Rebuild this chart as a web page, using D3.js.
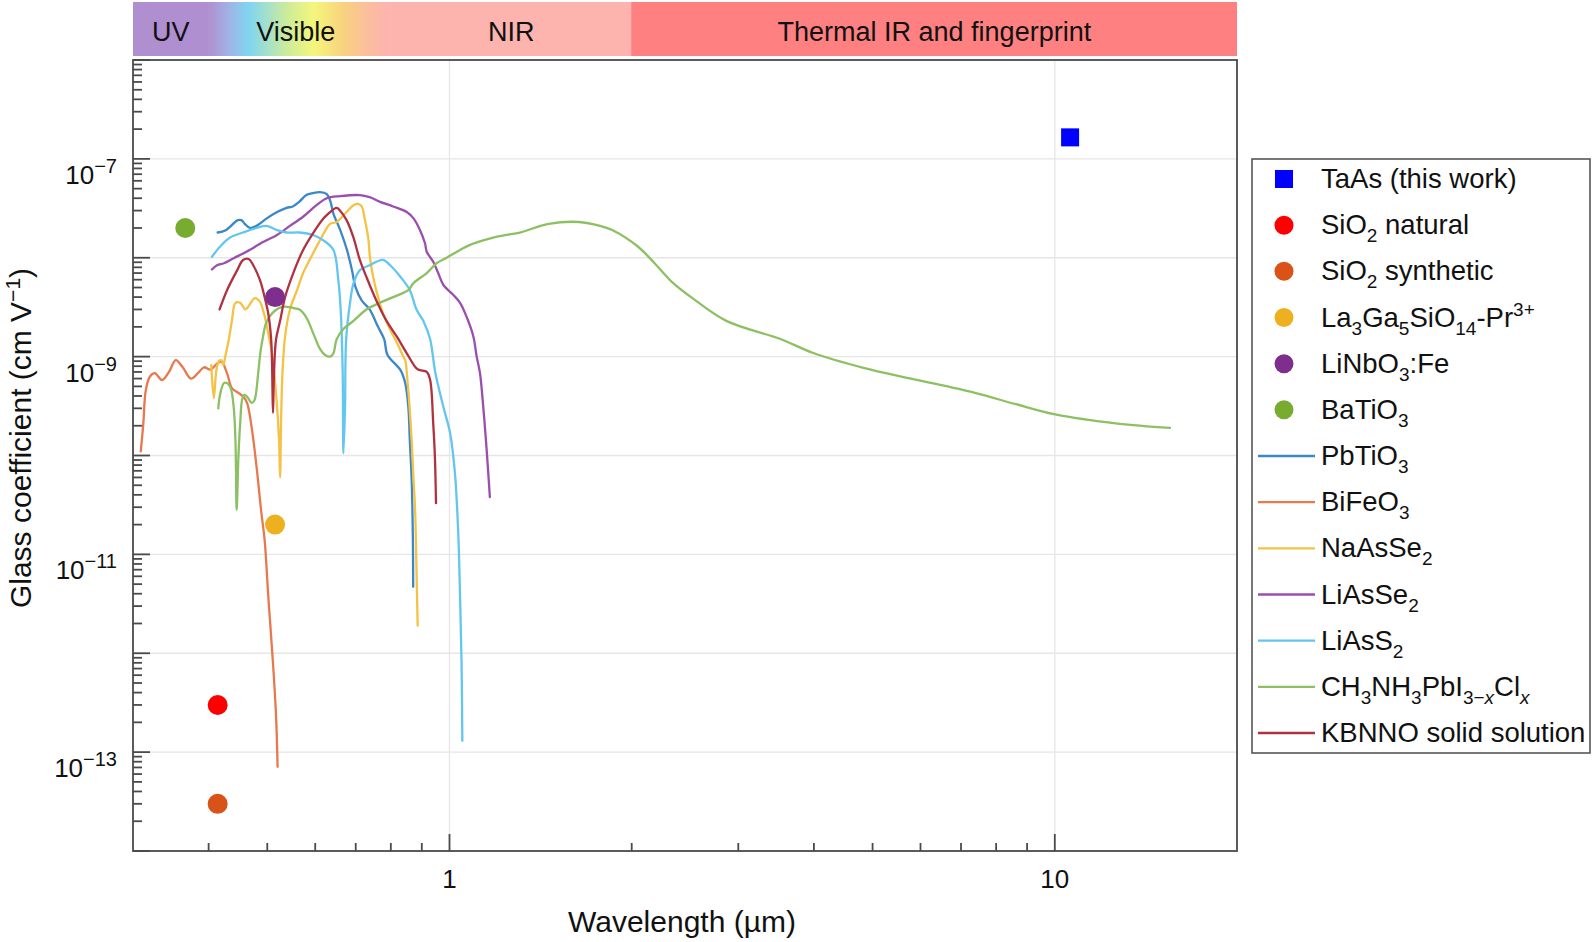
<!DOCTYPE html>
<html><head><meta charset="utf-8">
<script src="https://cdn.jsdelivr.net/npm/d3@7"></script>
<style>
body{margin:0;background:#fff;}
svg{display:block;font-family:"Liberation Sans",Arial,Helvetica,sans-serif;}
</style>
</head><body>
<svg id="chart" width="1593" height="942"></svg>
<script>
// ---------------- DATA ----------------
const bandNames = ["UV", "Visible", "NIR", "Thermal IR and fingerprint"];
const bandStart = [0.3, 0.4, 0.8, 2];
const bandEnd   = [0.4, 0.8, 2, 20];
const visibleStops = [[0.4,"#b08fd0"],[0.432,"#a0b3e6"],[0.466,"#7fd5f0"],[0.5,"#a5e0cc"],[0.54,"#cdec98"],[0.597,"#f5f67c"],[0.667,"#f8d27e"],[0.73,"#fbbf9c"],[0.79,"#fdb3ae"]];

const xTickLabels = [1, 10];
const yTickLabels = [-7, -9, -11, -13];

const pointNames  = ["TaAs (this work)", "SiO_{2} natural", "SiO_{2} synthetic", "La_{3}Ga_{5}SiO_{14}-Pr^{3+}", "LiNbO_{3}:Fe", "BaTiO_{3}"];
const pointLambda = [10.6, 0.414, 0.414, 0.515, 0.515, 0.366];
const pointValue  = [1.65e-7, 3.0e-13, 3.0e-14, 2.0e-11, 4.0e-9, 2.0e-8];

const curveNames = ["PbTiO_{3}", "BiFeO_{3}", "NaAsSe_{2}", "LiAsSe_{2}", "LiAsS_{2}", "CH_{3}NH_{3}PbI_{3−x}Cl_{x}", "KBNNO solid solution"];

const pbtio3 = [[0.414,1.8e-8],[0.427,1.9e-8],[0.447,2.4e-8],[0.453,2.4e-8],[0.459,2.2e-8],[0.468,2.0e-8],[0.48,2.1e-8],[0.499,2.5e-8],[0.519,2.9e-8],[0.538,3.2e-8],[0.551,3.3e-8],[0.565,3.7e-8],[0.58,4.3e-8],[0.595,4.5e-8],[0.611,4.6e-8],[0.627,4.4e-8],[0.635,3.8e-8],[0.643,2.8e-8],[0.66,1.9e-8],[0.677,1.2e-8],[0.69,7.5e-9],[0.699,5.1e-9],[0.716,3.7e-9],[0.738,3.0e-9],[0.762,2.0e-9],[0.78,1.5e-9],[0.79,1.04e-9],[0.83,7.3e-10],[0.845,5.4e-10],[0.855,3.1e-10],[0.86,1.4e-10],[0.866,5.6e-11],[0.87,1.4e-11],[0.871,4.7e-12]];

const bifeo3 = [[0.309,1.1e-10],[0.312,2.1e-10],[0.315,4.6e-10],[0.32,6.3e-10],[0.326,6.8e-10],[0.335,5.8e-10],[0.344,7.0e-10],[0.353,9.2e-10],[0.362,7.9e-10],[0.374,6.0e-10],[0.384,6.8e-10],[0.393,7.8e-10],[0.403,7.4e-10],[0.413,8.5e-10],[0.42,8.9e-10],[0.429,6.8e-10],[0.437,4.8e-10],[0.448,4.3e-10],[0.457,3.9e-10],[0.463,3.4e-10],[0.471,1.95e-10],[0.48,7.7e-11],[0.489,2.6e-11],[0.495,1.4e-11],[0.502,3.7e-12],[0.511,7.9e-13],[0.517,2.3e-13],[0.52,7.1e-14]];

const naasse2 = [[0.404,8.2e-10],[0.408,3.8e-10],[0.412,7.3e-10],[0.416,9.0e-10],[0.42,9.2e-10],[0.423,8.2e-10],[0.426,9.9e-10],[0.432,1.5e-9],[0.437,2.3e-9],[0.443,3.5e-9],[0.451,3.5e-9],[0.46,3.0e-9],[0.465,3.2e-9],[0.477,3.9e-9],[0.486,3.6e-9],[0.494,2.7e-9],[0.503,1.6e-9],[0.51,1.0e-9],[0.518,3.6e-10],[0.523,1.4e-10],[0.525,6.0e-11],[0.527,2.3e-10],[0.53,7.3e-10],[0.535,1.6e-9],[0.545,3.0e-9],[0.56,4.7e-9],[0.573,7.0e-9],[0.591,1.02e-8],[0.611,1.5e-8],[0.635,2.2e-8],[0.651,2.3e-8],[0.676,2.9e-8],[0.694,3.4e-8],[0.707,3.5e-8],[0.716,3.3e-8],[0.725,2.4e-8],[0.734,1.6e-8],[0.739,1.0e-8],[0.748,6.4e-9],[0.762,4.0e-9],[0.777,2.7e-9],[0.797,1.9e-9],[0.818,1.4e-9],[0.839,1.0e-9],[0.845,9.2e-10],[0.852,5.8e-10],[0.859,3.1e-10],[0.866,1.4e-10],[0.871,6.6e-11],[0.877,3.0e-11],[0.88,1.4e-11],[0.883,5e-12],[0.886,1.9e-12]];

const liasse2 = [[0.405,7.6e-9],[0.413,8.4e-9],[0.424,8.8e-9],[0.44,9.9e-9],[0.462,1.15e-8],[0.493,1.45e-8],[0.519,1.7e-8],[0.545,2.1e-8],[0.573,2.6e-8],[0.603,3.4e-8],[0.627,4.0e-8],[0.659,4.2e-8],[0.711,4.3e-8],[0.738,4.1e-8],[0.766,3.7e-8],[0.807,3.3e-8],[0.85,2.9e-8],[0.872,2.5e-8],[0.894,1.9e-8],[0.911,1.4e-8],[0.917,1.15e-8],[0.94,9.1e-9],[0.958,7.0e-9],[0.977,5.3e-9],[1.015,4.2e-9],[1.041,3.5e-9],[1.068,2.5e-9],[1.095,1.6e-9],[1.109,1.0e-9],[1.123,6.8e-10],[1.137,3.1e-10],[1.149,1.4e-10],[1.159,6.6e-11],[1.166,3.8e-11]];

const liass2 = [[0.405,1.02e-8],[0.418,1.3e-8],[0.434,1.6e-8],[0.456,1.8e-8],[0.48,2.0e-8],[0.499,2.1e-8],[0.519,1.9e-8],[0.538,1.8e-8],[0.565,1.8e-8],[0.595,1.7e-8],[0.619,1.5e-8],[0.643,1.2e-8],[0.655,6.0e-9],[0.661,3.0e-9],[0.666,7.3e-10],[0.668,1.05e-10],[0.672,3.1e-10],[0.675,1.5e-9],[0.685,3.5e-9],[0.694,5.5e-9],[0.711,7.5e-9],[0.738,8.4e-9],[0.776,9.5e-9],[0.798,8.4e-9],[0.83,6.4e-9],[0.86,4.7e-9],[0.882,3.0e-9],[0.905,2.3e-9],[0.929,1.5e-9],[0.947,7.0e-10],[0.977,3.1e-10],[1.002,1.7e-10],[1.021,6.6e-11],[1.034,1.6e-11],[1.041,3.7e-12],[1.047,7.9e-13],[1.05,1.3e-13]];

const ch3nh3 = [[0.415,3.0e-10],[0.418,4.2e-10],[0.424,5.4e-10],[0.429,5.4e-10],[0.435,4.8e-10],[0.44,3.1e-10],[0.443,1.4e-10],[0.445,2.8e-11],[0.448,9.7e-11],[0.451,2.1e-10],[0.455,3.8e-10],[0.459,4.1e-10],[0.465,3.8e-10],[0.471,3.4e-10],[0.476,3.6e-10],[0.483,6.8e-10],[0.487,1.1e-9],[0.492,1.6e-9],[0.498,2.2e-9],[0.511,2.8e-9],[0.531,3.2e-9],[0.552,3.1e-9],[0.565,3.0e-9],[0.58,2.5e-9],[0.596,1.7e-9],[0.611,1.2e-9],[0.623,1.04e-9],[0.635,1.0e-9],[0.643,1.08e-9],[0.651,1.5e-9],[0.668,1.9e-9],[0.694,2.3e-9],[0.729,3.0e-9],[0.767,3.5e-9],[0.807,4.0e-9],[0.855,4.7e-9],[0.871,5.5e-9],[0.917,7.0e-9],[0.952,8.8e-9],[0.989,1.0e-8],[1.041,1.2e-8],[1.081,1.35e-8],[1.137,1.5e-8],[1.181,1.6e-8],[1.243,1.7e-8],[1.308,1.8e-8],[1.458,2.2e-8],[1.637,2.3e-8],[1.773,2.1e-8],[1.86,1.9e-8],[2.047,1.3e-8],[2.182,8.8e-9],[2.345,5.5e-9],[2.52,3.9e-9],[2.866,2.3e-9],[3.53,1.5e-9],[3.97,1.1e-9],[4.83,7.7e-10],[5.86,5.9e-10],[7.38,4.3e-10],[8.63,3.3e-10],[10.02,2.6e-10],[12.7,2.1e-10],[15.5,1.9e-10]];

const kbnno = [[0.417,3.0e-9],[0.429,4.7e-9],[0.446,7.5e-9],[0.456,9.5e-9],[0.466,9.7e-9],[0.474,8.4e-9],[0.486,6.0e-9],[0.495,4.0e-9],[0.502,2.7e-9],[0.507,1.6e-9],[0.509,9.2e-10],[0.51,4.6e-10],[0.511,2.7e-10],[0.513,6.8e-10],[0.517,1.5e-9],[0.525,2.3e-9],[0.535,4.0e-9],[0.552,7.0e-9],[0.573,1.2e-8],[0.596,1.8e-8],[0.619,2.5e-8],[0.627,2.7e-8],[0.651,3.2e-8],[0.659,3.0e-8],[0.676,2.4e-8],[0.694,1.6e-8],[0.711,9.5e-9],[0.729,6.4e-9],[0.757,3.7e-9],[0.787,2.3e-9],[0.818,1.6e-9],[0.85,1.08e-9],[0.882,7.6e-10],[0.894,7.3e-10],[0.917,7.0e-10],[0.929,5.8e-10],[0.94,2.1e-10],[0.946,9.7e-11],[0.95,3.3e-11]];

const curveData = [pbtio3, bifeo3, naasse2, liasse2, liass2, ch3nh3, kbnno];

// ---------------- STYLE ----------------
const bandColors = ["#b08fd0", "url(#visGrad)", "#fdb3ae", "#fe8080"];
const pointColors = ["#0000ff", "#ff0000", "#d95319", "#edb120", "#7e2f8e", "#77ac30"];
const curveColors = ["#3b88c8", "#e8784e", "#f4c244", "#9a4fae", "#62c6ef", "#8dc063", "#b1323f"];

// ---------------- CHART ----------------
const svg = d3.select("#chart");
const P = {left:133, right:1237, top:60, bottom:851};
const x = d3.scaleLog().domain([0.3, 20]).range([P.left, P.right]);
const y = d3.scaleLog().domain([1e-14, 1e-6]).range([P.bottom, P.top]);

function richText(sel, str, base, small, subDy, supDy) {
  const re = /([_^])\{([^}]*)\}|([^_^]+)/g;
  let m, shift = 0;
  while ((m = re.exec(str))) {
    if (m[3] !== undefined) {
      sel.append("tspan").attr("dy", -shift).attr("font-size", base).text(m[3]);
      shift = 0;
    } else {
      const s = m[1] === "_" ? subDy : supDy;
      const dy = s - shift;
      const parts = m[2].split(/(x)/).filter(p => p);
      parts.forEach((p, i) => {
        const t = sel.append("tspan").attr("font-size", small).text(p);
        t.attr("dy", i === 0 ? dy : 0);
        if (p === "x") t.attr("font-style", "italic");
      });
      shift = s;
    }
  }
}

// gradient
const defs = svg.append("defs");
const grad = defs.append("linearGradient").attr("id", "visGrad")
  .attr("gradientUnits", "userSpaceOnUse")
  .attr("x1", x(0.4)).attr("x2", x(0.8)).attr("y1", 0).attr("y2", 0);
visibleStops.forEach(s => {
  grad.append("stop").attr("offset", (x(s[0]) - x(0.4)) / (x(0.8) - x(0.4))).attr("stop-color", s[1]);
});

// bands
const bandG = svg.append("g");
bandNames.forEach((n, i) => {
  bandG.append("rect").attr("x", x(bandStart[i]) - (i ? 0.5 : 0)).attr("y", 2)
    .attr("width", x(bandEnd[i]) - x(bandStart[i]) + (i ? 0.5 : 0)).attr("height", 54)
    .attr("fill", bandColors[i]);
});
bandNames.forEach((n, i) => {
  bandG.append("text").attr("x", (x(bandStart[i]) + x(bandEnd[i])) / 2 - (i===1?4:0)).attr("y", 41)
    .attr("text-anchor", "middle").attr("font-size", 27).attr("fill", "#111").text(n);
});

// plot background and grid
svg.append("rect").attr("x", P.left).attr("y", P.top).attr("width", P.right - P.left)
  .attr("height", P.bottom - P.top).attr("fill", "#fff");
const grid = svg.append("g").attr("stroke", "#e6e6e6").attr("stroke-width", 1.3);
d3.range(-13, -6).forEach(e => {
  grid.append("line").attr("x1", P.left).attr("x2", P.right).attr("y1", y(Math.pow(10, e))).attr("y2", y(Math.pow(10, e)));
});
xTickLabels.forEach(v => {
  grid.append("line").attr("x1", x(v)).attr("x2", x(v)).attr("y1", P.top).attr("y2", P.bottom);
});

// curves
const line = d3.line().x(d => x(d[0])).y(d => y(d[1])).curve(d3.curveCatmullRom.alpha(0.5));
const clip = defs.append("clipPath").attr("id", "plotClip");
clip.append("rect").attr("x", P.left).attr("y", P.top).attr("width", P.right - P.left).attr("height", P.bottom - P.top);
const curveG = svg.append("g").attr("clip-path", "url(#plotClip)");
curveData.forEach((d, i) => {
  curveG.append("path").datum(d).attr("d", line).attr("fill", "none")
    .attr("stroke", curveColors[i]).attr("stroke-width", 2.3)
    .attr("stroke-linejoin", "round").attr("stroke-linecap", "round");
});

// points
const ptG = svg.append("g");
pointNames.forEach((n, i) => {
  const cx = x(pointLambda[i]), cy = y(pointValue[i]);
  if (i === 0) {
    ptG.append("rect").attr("x", cx - 9).attr("y", cy - 9).attr("width", 18).attr("height", 18).attr("fill", pointColors[i]);
  } else {
    ptG.append("circle").attr("cx", cx).attr("cy", cy).attr("r", 10).attr("fill", pointColors[i]);
  }
});

// frame
svg.append("rect").attr("x", P.left).attr("y", P.top).attr("width", P.right - P.left)
  .attr("height", P.bottom - P.top).attr("fill", "none").attr("stroke", "#4a4a4a").attr("stroke-width", 1.8);

// ticks
const tickG = svg.append("g").attr("stroke", "#4a4a4a").attr("stroke-width", 1.8);
d3.range(-14, -5).forEach(e => {
  const yy = y(Math.pow(10, e));
  tickG.append("line").attr("x1", P.left).attr("x2", P.left + 17).attr("y1", yy).attr("y2", yy);
  if (e < -6) {
    d3.range(2, 10).forEach(m => {
      const ym = y(m * Math.pow(10, e));
      tickG.append("line").attr("x1", P.left).attr("x2", P.left + 9).attr("y1", ym).attr("y2", ym);
    });
  }
});
const xMinor = [0.4,0.5,0.6,0.7,0.8,0.9,2,3,4,5,6,7,8,9];
xMinor.forEach(v => {
  tickG.append("line").attr("x1", x(v)).attr("x2", x(v)).attr("y1", P.bottom).attr("y2", P.bottom - 8);
});
xTickLabels.forEach(v => {
  tickG.append("line").attr("x1", x(v)).attr("x2", x(v)).attr("y1", P.bottom).attr("y2", P.bottom - 17);
});

// tick labels
xTickLabels.forEach(v => {
  svg.append("text").attr("x", x(v)).attr("y", 888).attr("text-anchor", "middle")
    .attr("font-size", 26).attr("fill", "#111").text(v);
});
yTickLabels.forEach(e => {
  const t = svg.append("text").attr("x", 117).attr("y", y(Math.pow(10, e)) + 25)
    .attr("text-anchor", "end").attr("fill", "#111");
  richText(t, "10^{−" + (-e) + "}", 26, 20, 8, -11);
});

// axis titles
svg.append("text").attr("x", 682).attr("y", 932).attr("text-anchor", "middle")
  .attr("font-size", 30).attr("fill", "#111").text("Wavelength (µm)");
const yt = svg.append("text").attr("transform", "translate(31,438) rotate(-90)")
  .attr("text-anchor", "middle").attr("fill", "#111");
richText(yt, "Glass coefficient (cm V^{−1})", 30, 21, 8, -11);

// legend
const legG = svg.append("g");
legG.append("rect").attr("x", 1252).attr("y", 159).attr("width", 338).attr("height", 594)
  .attr("fill", "#fff").attr("stroke", "#555").attr("stroke-width", 1.6);
const legNames = pointNames.concat(curveNames);
const ly = d3.scalePoint().domain(d3.range(legNames.length)).range([179, 733]);
legNames.forEach((n, i) => {
  const yy = ly(i);
  if (i === 0) {
    legG.append("rect").attr("x", 1275).attr("y", yy - 9).attr("width", 18).attr("height", 18).attr("fill", pointColors[0]);
  } else if (i < pointNames.length) {
    legG.append("circle").attr("cx", 1284).attr("cy", yy).attr("r", 9.5).attr("fill", pointColors[i]);
  } else {
    legG.append("line").attr("x1", 1258).attr("x2", 1315).attr("y1", yy).attr("y2", yy)
      .attr("stroke", curveColors[i - pointNames.length]).attr("stroke-width", 2.3);
  }
  const t = legG.append("text").attr("x", 1321).attr("y", yy + 9).attr("fill", "#111");
  richText(t, n, 27.5, 19, 8, -11);
});
</script>
</body></html>
